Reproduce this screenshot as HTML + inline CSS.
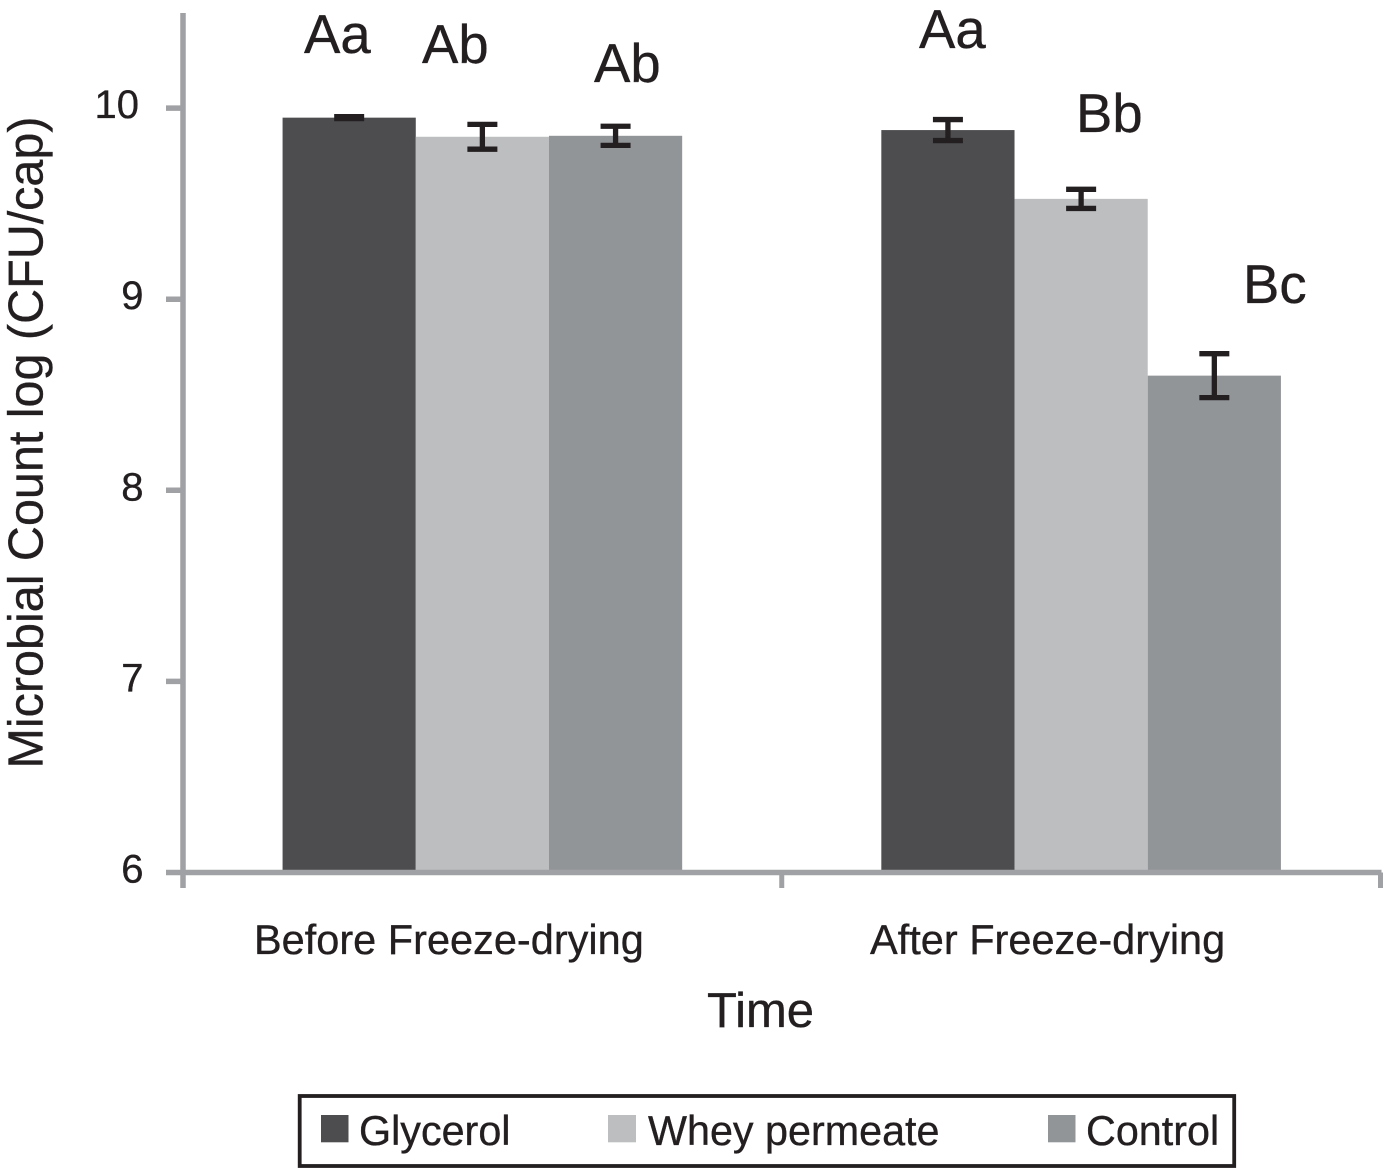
<!DOCTYPE html>
<html lang="en">
<head>
<meta charset="utf-8">
<title>Microbial Count Before and After Freeze-drying</title>
<style>
html, body { margin: 0; padding: 0; background: #fff; }
svg { display: block; font-family: "Liberation Sans", sans-serif; fill: #231f20; }
text { stroke: #231f20; stroke-width: 0.35; }
</style>
</head>
<body>
<svg id="chart" xmlns="http://www.w3.org/2000/svg" width="1383" height="1169" viewBox="0 0 1383 1169">
  <g id="bars"></g>
  <g id="errors"></g>
  <g id="axes"></g>

  <text transform="translate(42.5 442.5) rotate(-90)" text-anchor="middle" font-size="49" textLength="652" lengthAdjust="spacingAndGlyphs">Microbial Count log (CFU/cap)</text>
  <text x="760.5" y="1027" text-anchor="middle" font-size="49">Time</text>

  <text x="304" y="53" font-size="54.5">Aa</text>
  <text x="422" y="63" font-size="54.5">Ab</text>
  <text x="594" y="82" font-size="54.5">Ab</text>
  <text x="919" y="48" font-size="54.5">Aa</text>
  <text x="1076" y="132" font-size="54.5">Bb</text>
  <text x="1243" y="303" font-size="54.5">Bc</text>

  <g>
    <rect x="299.7" y="1096" width="934.5" height="70" fill="#fff" stroke="#231f20" stroke-width="3.8"/>
    <rect x="321" y="1115" width="27.5" height="27.3" fill="#4d4d4f"/>
    <text x="359" y="1145" font-size="41.3">Glycerol</text>
    <rect x="608" y="1115" width="28" height="27.3" fill="#bcbec0"/>
    <text x="648" y="1145" font-size="41.3">Whey permeate</text>
    <rect x="1048" y="1115" width="27.5" height="27.3" fill="#929598"/>
    <text x="1086" y="1145" font-size="41.3">Control</text>
  </g>
</svg>

<script>
const categories = ["Before Freeze-drying", "After Freeze-drying"];
const seriesNames = ["Glycerol", "Whey permeate", "Control"];
const glycerolValues = [9.95, 9.885];
const wheyValues = [9.85, 9.525];
const controlValues = [9.855, 8.6];
const glycerolErrors = [0.005, 0.055];
const wheyErrors = [0.065, 0.05];
const controlErrors = [0.05, 0.115];
const yTicks = [6, 7, 8, 9, 10];

const seriesValues = [glycerolValues, wheyValues, controlValues];
const seriesErrors = [glycerolErrors, wheyErrors, controlErrors];
const seriesColors = ["#4d4d4f", "#bcbec0", "#929598"];
const NS = "http://www.w3.org/2000/svg";
const axisColor = "#a0a1a4";
const plotLeft = 183, plotRight = 1380.5, plotBase = 872.5, unitHeight = 191.1;
const barWidth = 133.2;
const groupWidth = (plotRight - plotLeft) / categories.length;

function yScale(v) { return plotBase - (v - 6) * unitHeight; }
function groupCenter(i) { return plotLeft + groupWidth * (i + 0.5); }
function barLeft(g, s) { return groupCenter(g) - barWidth * seriesNames.length / 2 + barWidth * s; }

function make(tag, attrs, parent) {
  const el = document.createElementNS(NS, tag);
  for (const k in attrs) el.setAttribute(k, attrs[k]);
  parent.appendChild(el);
  return el;
}

const barsLayer = document.getElementById("bars");
const errorsLayer = document.getElementById("errors");
const axesLayer = document.getElementById("axes");

categories.forEach(function (cat, g) {
  seriesNames.forEach(function (name, s) {
    const v = seriesValues[s][g];
    const e = seriesErrors[s][g];
    const bar = make("rect", { x: barLeft(g, s), y: yScale(v), width: barWidth, height: plotBase - yScale(v), fill: seriesColors[s] }, barsLayer);
    
    

    const cx = barLeft(g, s) + barWidth / 2;
    const err = make("path", {
      d: "M" + (cx - 15) + " " + yScale(v + e) + "H" + (cx + 15) +
         "M" + cx + " " + yScale(v + e) + "V" + yScale(v - e) +
         "M" + (cx - 15) + " " + yScale(v - e) + "H" + (cx + 15),
      fill: "none", stroke: "#231f20", "stroke-width": 5.3
    }, errorsLayer);
    
    
  });

  const label = make("text", { x: groupCenter(g) - 33.5, y: 954, "text-anchor": "middle", "font-size": 41.5 }, axesLayer);
  label.textContent = cat;
  
  
});

const yAxisLine = make("line", { x1: plotLeft, x2: plotLeft, y1: 13, y2: 888, stroke: axisColor, "stroke-width": 5.5 }, axesLayer);



const xAxisLine = make("line", { x1: plotLeft, x2: plotRight + 1, y1: plotBase, y2: plotBase, stroke: axisColor, "stroke-width": 5.5 }, axesLayer);



yTicks.forEach(function (t) {
  const tick = make("line", { x1: 166, x2: plotLeft, y1: yScale(t), y2: yScale(t), stroke: axisColor, "stroke-width": 5.5 }, axesLayer);
  
  
  const lab = make("text", { x: t >= 10 ? 139 : 143.5, y: yScale(t) + 10, "text-anchor": "end", "font-size": 40 }, axesLayer);
  lab.textContent = String(t);
  
  
});

for (let i = 0; i <= categories.length; i++) {
  const x = plotLeft + groupWidth * i;
  const tick = make("line", { x1: x, x2: x, y1: plotBase, y2: 888, stroke: axisColor, "stroke-width": 5 }, axesLayer);
  
  
}
</script>
</body>
</html>
